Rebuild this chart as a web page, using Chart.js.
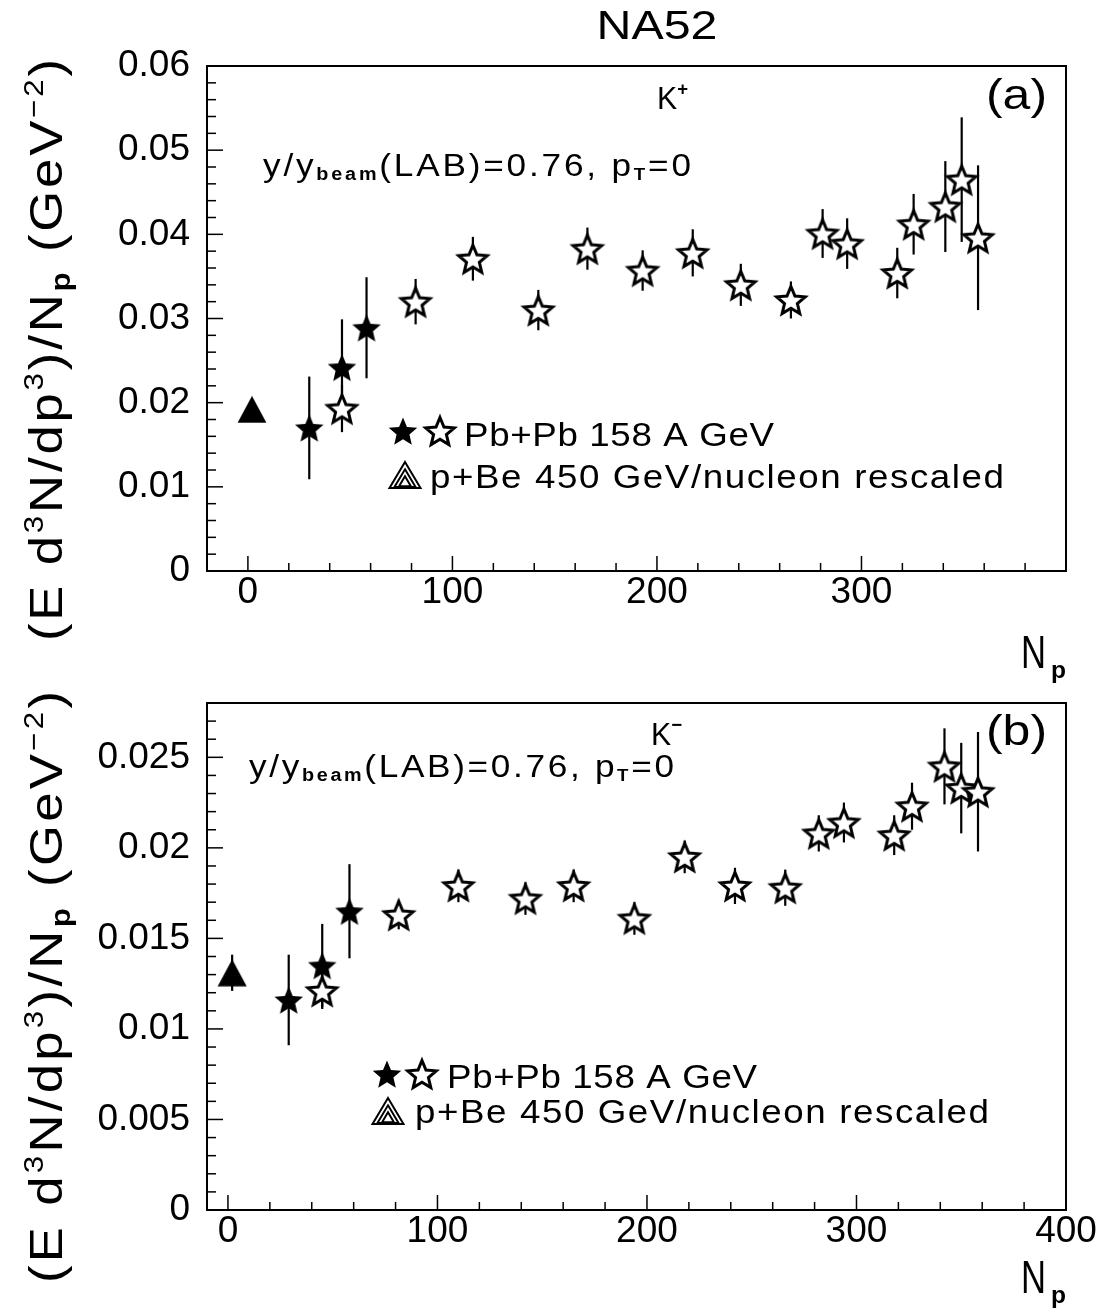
<!DOCTYPE html>
<html><head><meta charset="utf-8">
<script src="https://cdn.jsdelivr.net/npm/chart.js@4.4.1/dist/chart.umd.min.js"></script>
<style>
html,body{margin:0;padding:0;background:#fff;}
#wrap{position:relative;width:1108px;height:1312px;background:#fff;}
canvas{position:absolute;left:0;background:transparent;}
#c1{top:0;width:1108px;height:690px;}
#c2{top:640px;width:1108px;height:672px;}
</style></head><body>
<div id="wrap"><canvas id="c1" width="1108" height="690"></canvas><canvas id="c2" width="1108" height="672"></canvas></div>
<script>
// ---------------- DATA ----------------
// Panel (a) K+
const triTopN = [2];
const triTopV = [0.0192];
const triTopE = [0];
const fillTopN = [30, 46, 58];
const fillTopV = [0.0170, 0.0242, 0.0289];
const fillTopE = [0.0061, 0.0057, 0.0060];
const openTopN = [46, 82, 110, 142, 166, 193, 217.5, 241, 265.5, 281, 293, 317.5, 325.5, 341, 349, 357];
const openTopV = [0.0193, 0.0320, 0.0371, 0.0310, 0.0383, 0.0357, 0.0378, 0.0340, 0.0322, 0.0401, 0.0389, 0.0354, 0.0412, 0.0433, 0.0465, 0.0396];
const openTopE = [0.0028, 0.0027, 0.0026, 0.0024, 0.0025, 0.0024, 0.0028, 0.0025, 0.0022, 0.0029, 0.0030, 0.0030, 0.0036, 0.0054, 0.0074, 0.0086];
// Panel (b) K-
const triBotN = [2];
const triBotV = [0.0131];
const triBotE = [0.0010];
const fillBotN = [29, 45, 58];
const fillBotV = [0.0116, 0.0135, 0.0165];
const fillBotE = [0.0025, 0.0023, 0.0026];
const openBotN = [45, 81.5, 110, 142, 165, 194, 218, 242, 266, 282, 294, 318, 326.5, 342, 350, 358];
const openBotV = [0.0121, 0.0163, 0.0179, 0.0172, 0.0179, 0.0161, 0.0195, 0.0179, 0.0178, 0.0208, 0.0214, 0.0207, 0.0223, 0.0245, 0.0233, 0.0231];
const openBotE = [0.0010, 0.0008, 0.0009, 0.0009, 0.0009, 0.0009, 0.0009, 0.0010, 0.0010, 0.0010, 0.0011, 0.0011, 0.0013, 0.0021, 0.0025, 0.0033];
// Ticks
const xTicksTop = [0, 100, 200, 300];
const xLabelsTop = ['0', '100', '200', '300'];
const xTicksBot = [0, 100, 200, 300, 400];
const xLabelsBot = ['0', '100', '200', '300', '400'];
const yTicksTop = [0, 0.01, 0.02, 0.03, 0.04, 0.05, 0.06];
const yLabelsTop = ['0', '0.01', '0.02', '0.03', '0.04', '0.05', '0.06'];
const yTicksBot = [0, 0.005, 0.01, 0.015, 0.02, 0.025];
const yLabelsBot = ['0', '0.005', '0.01', '0.015', '0.02', '0.025'];

// ---------------- HELPERS ----------------
const FONT = '"Liberation Sans", Arial, Helvetica, sans-serif';

function starCanvas(filled, R) {
  const s = Math.ceil(R * 2 + 8);
  const c = document.createElement('canvas'); c.width = s; c.height = s;
  const g = c.getContext('2d');
  const cx = s / 2, cy = s / 2 + R * 0.1, r = R * 0.45;
  g.beginPath();
  for (let i = 0; i < 10; i++) {
    const a = -Math.PI / 2 + i * Math.PI / 5, rr = i % 2 ? r : R;
    const px = cx + rr * Math.cos(a), py = cy + rr * Math.sin(a);
    i ? g.lineTo(px, py) : g.moveTo(px, py);
  }
  g.closePath();
  if (filled) { g.fillStyle = '#000'; g.fill(); }
  else { g.fillStyle = '#fff'; g.fill(); g.lineWidth = 3; g.strokeStyle = '#000'; g.lineJoin = 'miter'; g.stroke(); }
  return c;
}
function triCanvas() {
  const w = 30, h = 28;
  const c = document.createElement('canvas'); c.width = w; c.height = h;
  const g = c.getContext('2d');
  g.beginPath(); g.moveTo(w / 2, 0.5); g.lineTo(w - 0.5, h - 0.5); g.lineTo(0.5, h - 0.5); g.closePath();
  g.fillStyle = '#000'; g.fill();
  return c;
}
const STAR_F = starCanvas(true, 15);
const STAR_O = starCanvas(false, 15);
const TRI = triCanvas();

function drawRich(ctx, segs, x, y, o) {
  o = o || {};
  const items = []; let nat = 0;
  segs.forEach(s => {
    const f = (s.b ? 'bold ' : '') + s.s + 'px ' + FONT; ctx.font = f;
    for (const ch of s.t) { const w = ctx.measureText(ch).width; items.push({ ch, f, w, dy: s.dy || 0 }); nat += w; }
  });
  let sx = o.sx || 1, sp = 0;
  if (o.w) {
    if (o.mode === 'space') sp = (o.w - nat * sx) / Math.max(1, items.length - 1);
    else sx = o.w / nat;
  }
  const total = o.w || nat * sx;
  let cx = o.align === 'center' ? x - total / 2 : x;
  ctx.save(); ctx.fillStyle = '#000'; ctx.textBaseline = 'alphabetic'; ctx.textAlign = 'left';
  items.forEach(it => {
    ctx.font = it.f; ctx.save(); ctx.translate(cx, y + it.dy); ctx.scale(sx, 1); ctx.fillText(it.ch, 0, 0); ctx.restore();
    cx += it.w * sx + sp;
  });
  ctx.restore();
}

function legendTri(ctx, cx, cy) {
  ctx.save(); ctx.strokeStyle = '#000'; ctx.lineWidth = 2;
  [1, 0.68, 0.38].forEach(k => {
    const w = 31 * k, h = 26 * k, by = cy + 13 - (1 - k) * 3;
    ctx.beginPath(); ctx.moveTo(cx, by - h); ctx.lineTo(cx + w / 2, by); ctx.lineTo(cx - w / 2, by); ctx.closePath(); ctx.stroke();
  });
  ctx.restore();
}

const yTitle = [
  { t: '(E d', s: 47 }, { t: '3', s: 28, dy: -19 }, { t: 'N/dp', s: 47 }, { t: '3', s: 28, dy: -19 },
  { t: ')/N', s: 47 }, { t: 'p', s: 28, dy: 8, b: true }, { t: ' (GeV', s: 47 }, { t: '\u22122', s: 28, dy: -19 }, { t: ')', s: 47 }
];

function panelPlugin(P) {
  return {
    id: 'deco' + P.id,
    beforeDatasetsDraw(chart) {
      const ctx = chart.ctx, xs = chart.scales.x, ys = chart.scales.y;
      ctx.save(); ctx.strokeStyle = '#000'; ctx.lineWidth = 2.2;
      chart.data.datasets.forEach(ds => {
        ds.data.forEach(pt => {
          if (!pt.e) return;
          const px = xs.getPixelForValue(pt.x);
          ctx.beginPath(); ctx.moveTo(px, ys.getPixelForValue(pt.y - pt.e)); ctx.lineTo(px, ys.getPixelForValue(pt.y + pt.e)); ctx.stroke();
        });
      });
      ctx.restore();
    },
    afterDraw(chart) {
      const ctx = chart.ctx, a = chart.chartArea, xs = chart.scales.x, ys = chart.scales.y;
      ctx.save();
      ctx.strokeStyle = '#000';
      ctx.lineWidth = 1.5;
      for (let v = P.xMinorStart; v <= P.xMax + 1e-9; v += P.xMinor) {
        const major = Math.abs(v / P.xMajor - Math.round(v / P.xMajor)) < 1e-6;
        const px = xs.getPixelForValue(v);
        if (px < a.left + 1 || px > a.right - 1) continue;
        ctx.beginPath(); ctx.moveTo(px, a.bottom); ctx.lineTo(px, a.bottom - (major ? 15 : 8)); ctx.stroke();
      }
      for (let i = 1; ; i++) {
        const v = i * P.yMinor; if (v > P.yMax + 1e-12) break;
        const major = Math.abs(v / P.yMajor - Math.round(v / P.yMajor)) < 1e-6;
        const py = ys.getPixelForValue(v);
        if (py < a.top + 1) continue;
        ctx.beginPath(); ctx.moveTo(a.left, py); ctx.lineTo(a.left + (major ? 16 : 9), py); ctx.stroke();
      }
      ctx.lineWidth = 2;
      ctx.strokeRect(a.left, a.top, a.right - a.left, a.bottom - a.top);
      ctx.restore();

      const o = P.off;
      if (P.title) drawRich(ctx, [{ t: 'NA52', s: 40 }], 657, 39 - o, { align: 'center', w: 121 });
      drawRich(ctx, [{ t: 'K', s: 31 }, { t: P.sign, s: 19, dy: -14, b: true }], P.kx, P.ky - o, { w: 31 });
      drawRich(ctx, [{ t: P.tag, s: 42 }], 986, P.tagY - o, { w: 61 });
      drawRich(ctx, [{ t: 'y/y', s: 32 }, { t: 'beam', s: 18, dy: 4, b: true }, { t: '(LAB)=0.76, p', s: 32 }, { t: 'T', s: 17, dy: 4, b: true }, { t: '=0', s: 32 }],
        P.rx, P.ry - o, { w: P.rw, mode: 'space', sx: 1.1 });
      ctx.drawImage(STAR_F, P.s1x - STAR_F.width / 2, P.sy - o - STAR_F.height / 2);
      ctx.drawImage(STAR_O, P.s2x - STAR_O.width / 2, P.sy - o - STAR_O.height / 2);
      drawRich(ctx, [{ t: 'Pb+Pb 158 A GeV', s: 34 }], P.l1x, P.l1y - o, { w: P.l1w, mode: 'space', sx: 1.08 });
      legendTri(ctx, P.tx, P.ty - o);
      drawRich(ctx, [{ t: 'p+Be 450 GeV/nucleon rescaled', s: 34 }], P.l2x, P.l2y - o, { w: P.l2w, mode: 'space', sx: 1.08 });
      ctx.save(); ctx.translate(62, P.ytc - o); ctx.rotate(-Math.PI / 2);
      drawRich(ctx, yTitle, 0, 0, { align: 'center', w: P.ytw, mode: 'space', sx: 1.12 });
      ctx.restore();
      drawRich(ctx, [{ t: 'N', s: 46 }], 1021, P.nY - o, { w: 25 });
      drawRich(ctx, [{ t: 'p', s: 24, b: true }], 1051, P.nY + 10 - o, { w: 15 });
    }
  };
}

function makeChart(id, P, d) {
  const H = P.H;
  const data = {
    datasets: [
      { label: 'tri', data: d.triN.map((x, i) => ({ x, y: d.triV[i], e: d.triE[i] })), pointStyle: TRI, pointRadius: 14, showLine: false },
      { label: 'open', data: d.openN.map((x, i) => ({ x, y: d.openV[i], e: d.openE[i] })), pointStyle: STAR_O, pointRadius: 14, showLine: false },
      { label: 'fill', data: d.fillN.map((x, i) => ({ x, y: d.fillV[i], e: d.fillE[i] })), pointStyle: STAR_F, pointRadius: 14, showLine: false }
    ]
  };
  return new Chart(document.getElementById(id), {
    type: 'scatter',
    data,
    plugins: [panelPlugin(P)],
    options: {
      responsive: false, animation: false, devicePixelRatio: 1,
      layout: { padding: { top: P.top, right: 42, left: 0, bottom: 0 } },
      plugins: { legend: { display: false }, tooltip: { enabled: false }, title: { display: false } },
      elements: { point: { borderWidth: 0 } },
      clip: false,
      scales: {
        x: {
          type: 'linear', min: P.xMinV, max: P.xMax,
          grid: { display: false, drawTicks: false }, border: { display: false },
          afterFit: s => { s.height = H - P.bottom; },
          afterBuildTicks: s => { s.ticks = d.xT.map(v => ({ value: v })); },
          ticks: { color: '#000', font: { family: FONT, size: 37 }, padding: 0, maxRotation: 0, autoSkip: false,
            callback: v => { const i = d.xT.indexOf(v); return i < 0 ? '' : d.xL[i]; } }
        },
        y: {
          type: 'linear', min: 0, max: P.yMax,
          grid: { display: false, drawTicks: false }, border: { display: false },
          afterFit: s => { s.width = 207; },
          afterBuildTicks: s => { s.ticks = d.yT.map(v => ({ value: v })); },
          ticks: { color: '#000', font: { family: FONT, size: 37 }, padding: 17, autoSkip: false,
            callback: v => { const i = d.yT.findIndex(t => Math.abs(t - v) < 1e-9); return i < 0 ? '' : d.yL[i]; } }
        }
      }
    }
  });
}

makeChart('c1', {
  id: 1, H: 690, top: 66, bottom: 571, off: 0, title: true,
  xMinV: -20, xMax: 400, xMinorStart: 0, xMinor: 20, xMajor: 100, yMax: 0.06, yMinor: 0.002, yMajor: 0.01,
  sign: '+', kx: 657, ky: 109, tag: '(a)', tagY: 109,
  rx: 263, ry: 176, rw: 428,
  s1x: 403, s2x: 440, sy: 431, l1x: 464, l1y: 446, l1w: 310,
  tx: 405, ty: 475, l2x: 430, l2y: 488, l2w: 574,
  ytc: 350, ytw: 582, nY: 668
}, { triN: triTopN, triV: triTopV, triE: triTopE, fillN: fillTopN, fillV: fillTopV, fillE: fillTopE,
     openN: openTopN, openV: openTopV, openE: openTopE, xT: xTicksTop, xL: xLabelsTop, yT: yTicksTop, yL: yLabelsTop });

makeChart('c2', {
  id: 2, H: 672, top: 63, bottom: 570, off: 640, title: false,
  xMinV: -10, xMax: 400, xMinorStart: 0, xMinor: 20, xMajor: 100, yMax: 0.028, yMinor: 0.001, yMajor: 0.005,
  sign: '\u2212', kx: 651, ky: 745, tag: '(b)', tagY: 745,
  rx: 249, ry: 777, rw: 425,
  s1x: 387, s2x: 422, sy: 1074, l1x: 447, l1y: 1088, l1w: 310,
  tx: 388, ty: 1111, l2x: 415, l2y: 1123, l2w: 574,
  ytc: 987, ytw: 592, nY: 1293
}, { triN: triBotN, triV: triBotV, triE: triBotE, fillN: fillBotN, fillV: fillBotV, fillE: fillBotE,
     openN: openBotN, openV: openBotV, openE: openBotE, xT: xTicksBot, xL: xLabelsBot, yT: yTicksBot, yL: yLabelsBot });
</script>
</body></html>
